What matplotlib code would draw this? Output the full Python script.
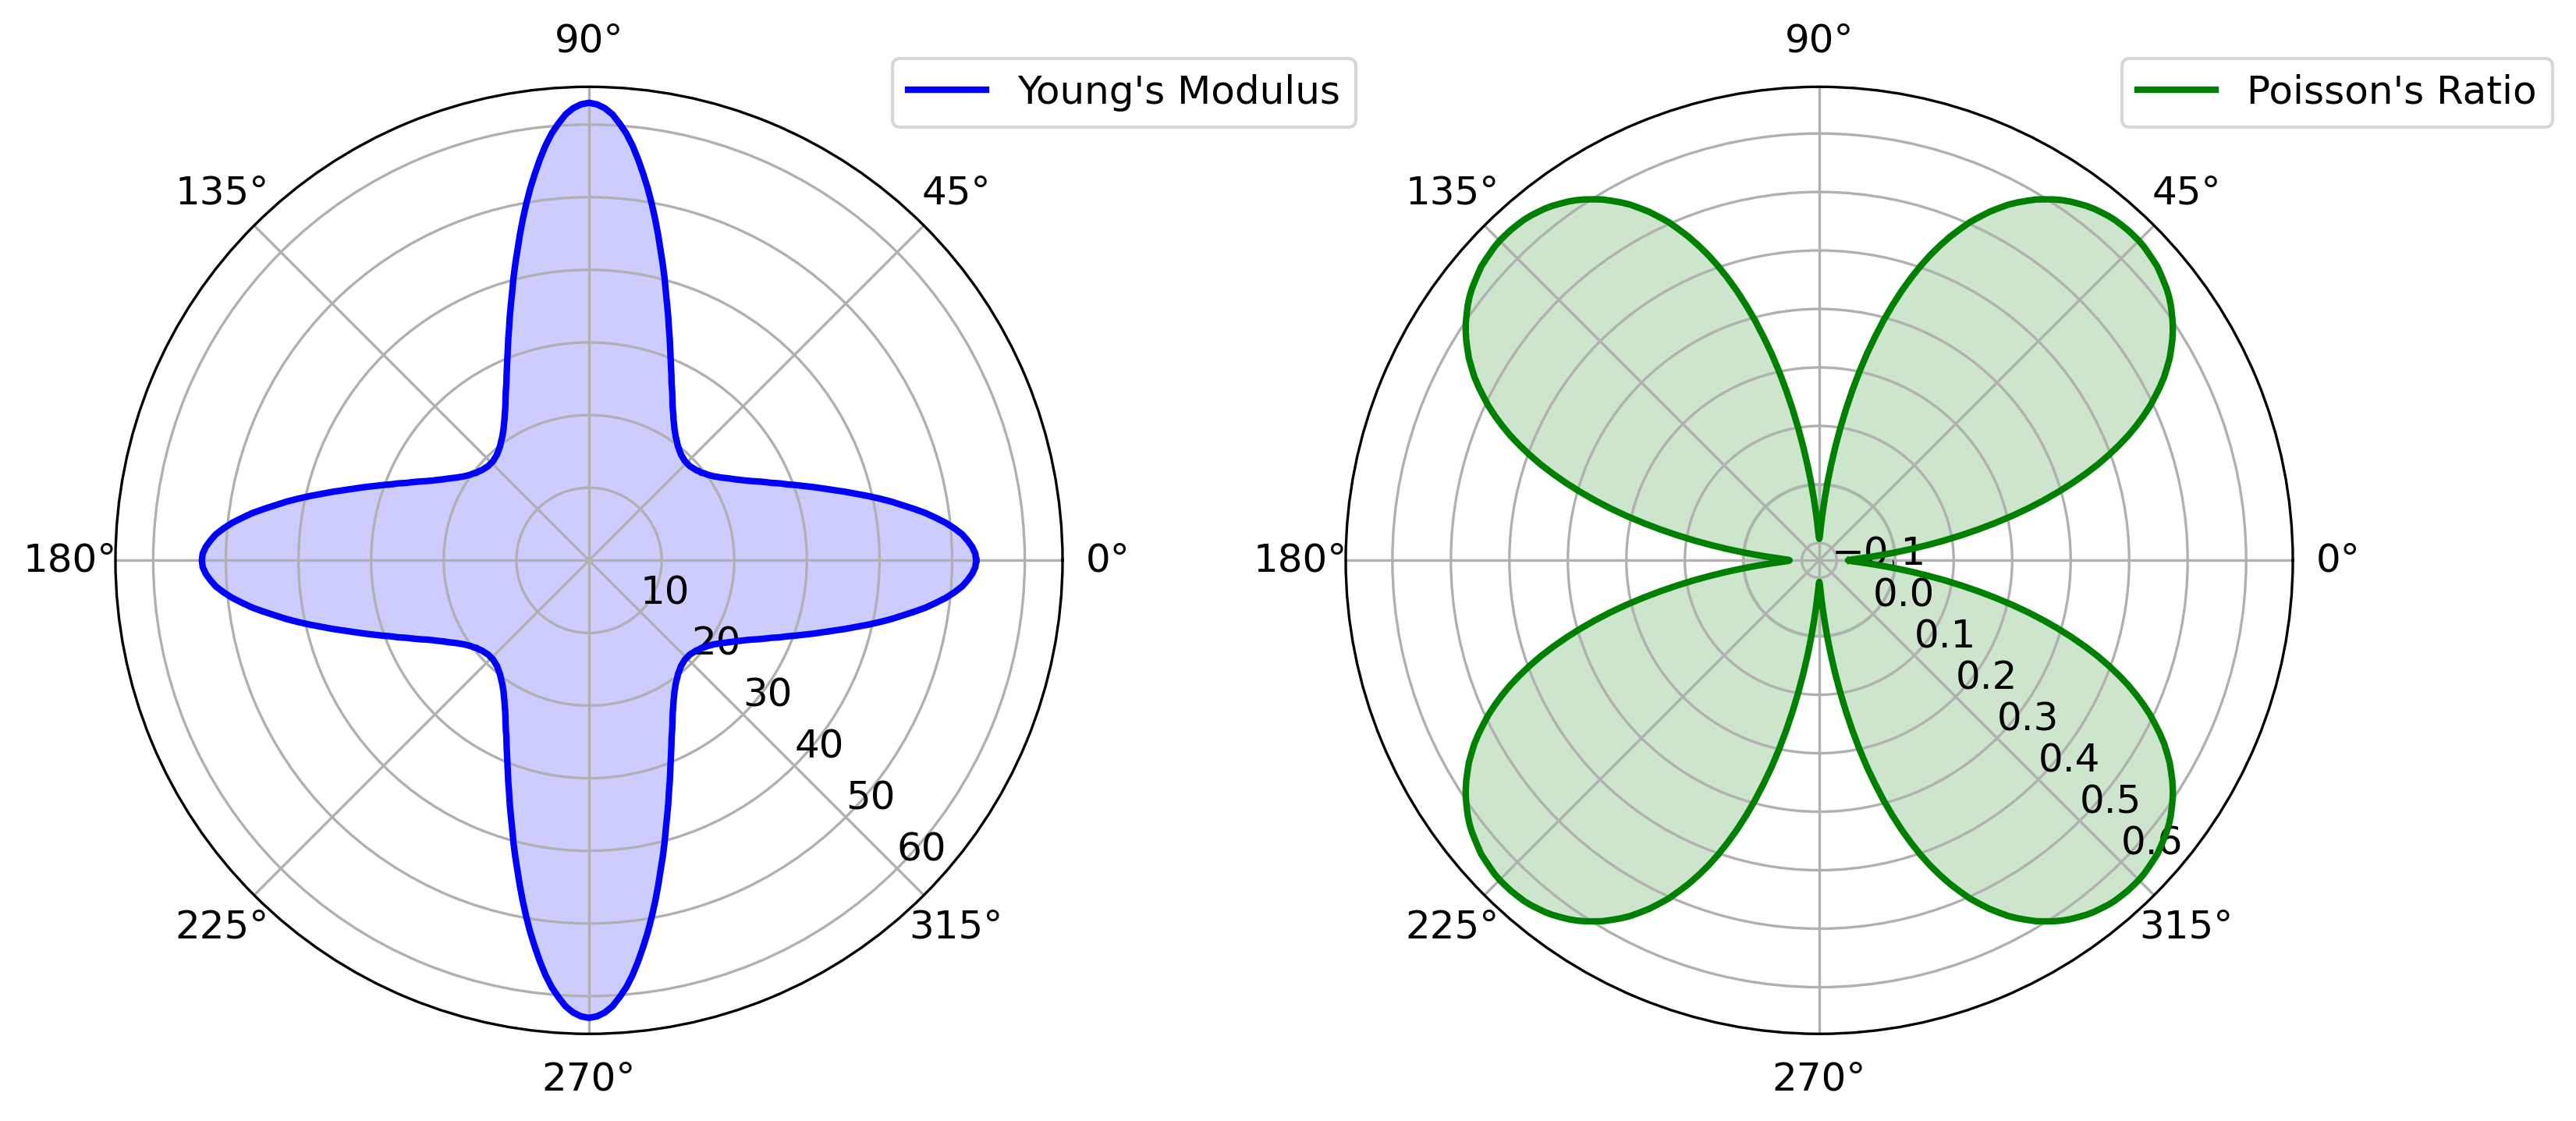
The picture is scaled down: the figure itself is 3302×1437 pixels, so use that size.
import numpy as np
import matplotlib
matplotlib.use("Agg")
import matplotlib.pyplot as plt

plt.rcParams['font.size'] = 12

angle_deg = list(range(0, 91))

youngs_q = [53.3, 53.2, 52.8, 52.2, 51.5, 50.5, 49.4, 48.1, 46.8, 45.3, 43.8, 42.4, 40.9,
            39.4, 37.9, 36.5, 35.1, 33.8, 32.6, 31.4, 30.3, 29.2, 28.3, 27.3, 26.5, 25.7,
            24.9, 24.2, 23.6, 23.0, 22.5, 22.0, 21.5, 21.1, 20.7, 20.4, 20.1, 19.9, 19.6,
            19.5, 19.3, 19.2, 19.1, 19.0, 19.0, 19.0, 19.0, 19.1, 19.2, 19.3, 19.5, 19.7,
            19.9, 20.2, 20.5, 20.8, 21.2, 21.6, 22.1, 22.6, 23.2, 23.8, 24.5, 25.3, 26.1,
            26.9, 27.9, 28.9, 30.0, 31.2, 32.5, 33.8, 35.3, 36.8, 38.4, 40.2, 42.0, 43.8,
            45.8, 47.8, 49.8, 51.8, 53.7, 55.6, 57.4, 59.0, 60.3, 61.5, 62.3, 62.8, 63.0]

poisson_q = [-0.079, -0.077, -0.069, -0.057, -0.041, -0.021, 0.002, 0.028, 0.056, 0.086, 0.116, 0.147, 0.178,
             0.209, 0.239, 0.268, 0.296, 0.323, 0.349, 0.374, 0.397, 0.419, 0.440, 0.459, 0.477, 0.494,
             0.509, 0.524, 0.538, 0.550, 0.562, 0.572, 0.582, 0.591, 0.599, 0.606, 0.613, 0.619, 0.624,
             0.628, 0.632, 0.636, 0.638, 0.640, 0.642, 0.643, 0.643, 0.643, 0.642, 0.641, 0.639, 0.636,
             0.633, 0.629, 0.624, 0.619, 0.613, 0.606, 0.598, 0.590, 0.580, 0.570, 0.559, 0.546, 0.533,
             0.518, 0.503, 0.485, 0.467, 0.447, 0.426, 0.403, 0.378, 0.352, 0.324, 0.295, 0.264, 0.233,
             0.200, 0.166, 0.132, 0.098, 0.065, 0.033, 0.003, -0.025, -0.048, -0.067, -0.082, -0.090, -0.093]


# Symmetrie: Quadrant spiegeln, dann Halbkreis wiederholen
def full_turn(q):
    half = q + q[::-1][1:]
    return np.array(half + half[1:])


theta = np.radians(np.array(angle_deg + [180 - a for a in angle_deg[::-1][1:]]
                            + [180 + a for a in angle_deg[1:]] + [270 + a for a in angle_deg[1:]]))
E = full_turn(youngs_q)
nu = full_turn(poisson_q)

fig = plt.figure(figsize=(3302 / 300, 1437 / 300), dpi=300)
ax1 = fig.add_axes([0.04482, 0.07773, 0.36766, 0.84482], projection='polar')
ax2 = fig.add_axes([0.52241, 0.07773, 0.36766, 0.84482], projection='polar')

# Elastizitätsmodul
ax1.plot(theta, E, 'b-', linewidth=2, label="Young's Modulus")
ax1.fill(theta, E, color='b', alpha=0.2)
ax1.set_rlabel_position(-45)
ax1.legend(loc='upper right', bbox_to_anchor=(0.52635, 0.94781),
           bbox_transform=fig.transFigure, borderaxespad=0)

# Querkontraktionszahl
ax2.plot(theta, nu, 'g-', linewidth=2, label="Poisson's Ratio")
ax2.fill(np.concatenate([theta, theta]), np.concatenate([nu, np.zeros_like(nu)]),
         color='g', alpha=0.2)
ax2.set_rlabel_position(-45)
ax2.legend(loc='upper right', bbox_to_anchor=(0.99091, 0.94781),
           bbox_transform=fig.transFigure, borderaxespad=0)

fig.savefig('out.png', dpi=300)
